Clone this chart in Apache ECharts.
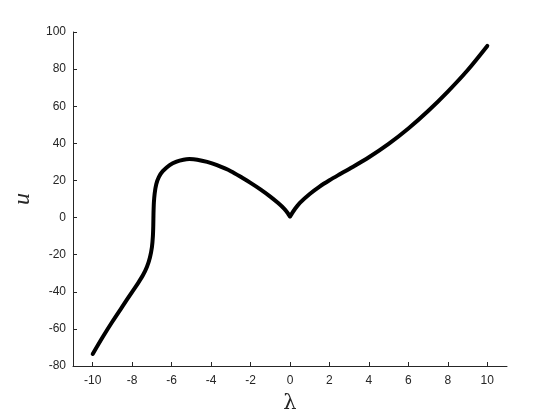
<!DOCTYPE html>
<html>
<head>
<meta charset="utf-8">
<script src="https://cdn.jsdelivr.net/npm/echarts@6/dist/echarts.min.js"></script>
<style>html,body{margin:0;padding:0;background:#fff}#c{width:560px;height:420px}</style>
</head>
<body>
<div id="c"></div>
<script>
const lambdaVals = [-10, -9.5, -9, -8.5, -8, -7.7, -7.45, -7.25, -7.1, -7.0, -6.95, -6.93, -6.92, -6.9, -6.86, -6.78, -6.65, -6.45, -6.1, -5.75, -5.4, -5.1, -4.7, -4.2, -3.7, -3, -2.4, -2, -1.5, -1, -0.6, -0.3, -0.1, 0, 0.1, 0.25, 0.5, 1, 1.5, 2, 2.5, 3, 4, 5, 6, 7, 8, 9, 10];
const uVals = [-73.5, -64.5, -56, -48, -40, -35.3, -31, -26.5, -21.5, -16, -10, -4, 2, 8, 13, 18, 21.8, 25, 28.3, 30.2, 31.2, 31.5, 31.2, 30.0, 28.2, 25, 21.3, 18.7, 15.2, 11.3, 7.8, 4.8, 2.2, 0.5, 2.3, 4.6, 7.9, 12.7, 16.7, 20.1, 23.2, 26.2, 32.5, 39.7, 48, 57.4, 67.9, 79.4, 92.5];
const xTicks = [-10, -8, -6, -4, -2, 0, 2, 4, 6, 8, 10];
const yTicks = [-80, -60, -40, -20, 0, 20, 40, 60, 80, 100];

const data = lambdaVals.map((x, i) => [x, uVals[i]]);
const axisColor = '#262626';
const chart = echarts.init(document.getElementById('c'), null, {renderer: 'canvas'});
chart.setOption({
  animation: false,
  backgroundColor: '#fff',
  grid: {left: 73, right: 53, top: 32, bottom: 54, containLabel: false},
  xAxis: {
    type: 'value', min: -11, max: 11,
    name: 'λ', nameLocation: 'middle', nameGap: 27,
    nameTextStyle: {fontFamily: 'DejaVu Serif', fontSize: 21, color: axisColor},
    axisLine: {onZero: false, lineStyle: {color: axisColor, width: 1}},
    axisTick: {inside: true, length: 4, customValues: xTicks, lineStyle: {color: axisColor}},
    axisLabel: {color: axisColor, fontSize: 12, fontFamily: 'Liberation Sans', margin: 9,
      customValues: xTicks, showMinLabel: true, showMaxLabel: true},
    splitLine: {show: false}
  },
  yAxis: {
    type: 'value', min: -80, max: 100,
    name: 'u', nameLocation: 'middle', nameGap: 37, nameRotate: 90,
    nameTextStyle: {fontFamily: 'Liberation Serif', fontStyle: 'italic', fontSize: 24, color: axisColor},
    axisLine: {show: true, onZero: false, lineStyle: {color: axisColor, width: 1}},
    axisTick: {show: true, inside: true, length: 4, customValues: yTicks, lineStyle: {color: axisColor}},
    axisLabel: {color: axisColor, fontSize: 12, fontFamily: 'Liberation Sans', margin: 7, customValues: yTicks},
    splitLine: {show: false}
  },
  series: [{
    type: 'line', data: data, smooth: 0.3, showSymbol: false,
    lineStyle: {color: '#000', width: 4, cap: 'round', join: 'round'}
  }]
});
</script>
</body>
</html>
